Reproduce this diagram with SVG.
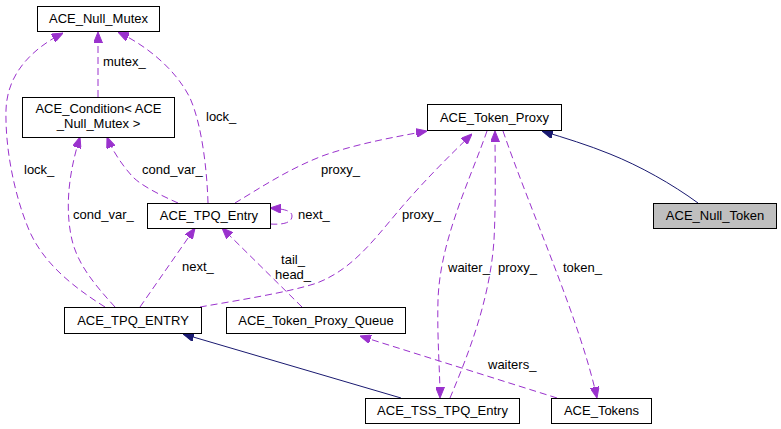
<svg xmlns="http://www.w3.org/2000/svg" width="781" height="429" viewBox="0 0 781 429">
<style>
text{font-family:"Liberation Sans",Arial,sans-serif;font-size:13px;fill:#000}
.n rect{fill:#fff;stroke:#000;stroke-width:1}
.n text{text-anchor:middle}
.d{fill:none;stroke:#9a32cd;stroke-width:1;stroke-dasharray:7,4;marker-end:url(#ap)}
.s{fill:none;stroke:#191970;stroke-width:1;marker-end:url(#an)}
</style>
<defs>
<marker id="ap" viewBox="0 0 11 9" refX="11" refY="4.5" markerWidth="11" markerHeight="9" markerUnits="userSpaceOnUse" orient="auto"><path d="M0,0L11,4.5L0,9z" fill="#9a32cd" stroke="#9a32cd"/></marker>
<marker id="an" viewBox="0 0 11 9" refX="11" refY="4.5" markerWidth="11" markerHeight="9" markerUnits="userSpaceOnUse" orient="auto"><path d="M0,0L11,4.5L0,9z" fill="#191970" stroke="#191970"/></marker>
</defs>
<rect width="781" height="429" fill="#fff"/>
<g id="edges">
<path class="s" d="M698,203 C672,184 640,166 610,154 C588,145 565,138 542,131"/>
<path class="s" d="M401,398 L183,334"/>
<path class="d" d="M557,398 L360,336"/>
<path class="d" d="M503,131 C530,210 580,320 597,398"/>
<path class="d" d="M487,131 C470,180 440,240 438,300 C437,340 440,370 440,398"/>
<path class="d" d="M450,398 C468,355 490,300 494,240 C496,200 495,160 495,131"/>
<path class="d" d="M200,307 C240,300 290,292 317,283 C350,270 370,245 395,215 C420,185 450,155 472,134"/>
<path class="d" d="M235,203 C260,188 290,168 325,155 C360,143 395,137 427,131"/>
<path class="d" d="M270,224 C285,225 292,222 292,216 C292,211 285,209 270,208"/>
<path class="d" d="M140,307 L195,228"/>
<path class="d" d="M302,307 L222,228"/>
<path class="d" d="M178,203 C160,195 140,185 132,176 C122,165 112,150 107,137"/>
<path class="d" d="M208,203 C207,170 202,125 190,98 C175,68 145,45 118,32"/>
<path class="d" d="M105,307 C70,285 40,260 27,225 C15,195 5,150 6,110 C7,75 30,50 63,33"/>
<path class="d" d="M115,307 C95,285 78,265 72,240 C65,210 68,175 80,137"/>
<path class="d" d="M98,97 L98,32"/>
<text x="103" y="66">mutex_</text>
<text x="206" y="121">lock_</text>
<text x="24" y="174">lock_</text>
<text x="142" y="174">cond_var_</text>
<text x="73" y="219">cond_var_</text>
<text x="321" y="174">proxy_</text>
<text x="298" y="219">next_</text>
<text x="402" y="219">proxy_</text>
<text x="182" y="271">next_</text>
<text x="293" y="264" text-anchor="middle">tail_</text>
<text x="293" y="279" text-anchor="middle">head_</text>
<text x="448" y="272">waiter_</text>
<text x="498" y="272">proxy_</text>
<text x="563" y="272">token_</text>
<text x="488" y="369">waiters_</text>
</g>
<g id="ACE_Null_Mutex" class="n"><rect x="37.5" y="6.5" width="122" height="25"/><text x="98.5" y="23">ACE_Null_Mutex</text></g>
<g id="ACE_Condition" class="n"><rect x="22.5" y="97.5" width="152" height="40"/><text x="98.5" y="113">ACE_Condition&lt; ACE</text><text x="98.5" y="128">_Null_Mutex &gt;</text></g>
<g id="ACE_TPQ_Entry" class="n"><rect x="147.5" y="203.5" width="123" height="25"/><text x="209" y="220">ACE_TPQ_Entry</text></g>
<g id="ACE_TPQ_ENTRY" class="n"><rect x="64.5" y="307.5" width="137" height="26"/><text x="133" y="325">ACE_TPQ_ENTRY</text></g>
<g id="ACE_Token_Proxy_Queue" class="n"><rect x="226.5" y="307.5" width="179" height="26"/><text x="316" y="325">ACE_Token_Proxy_Queue</text></g>
<g id="ACE_TSS_TPQ_Entry" class="n"><rect x="365.5" y="398.5" width="154" height="25"/><text x="442.5" y="415">ACE_TSS_TPQ_Entry</text></g>
<g id="ACE_Tokens" class="n"><rect x="551.5" y="398.5" width="100" height="25"/><text x="601.5" y="415">ACE_Tokens</text></g>
<g id="ACE_Token_Proxy" class="n"><rect x="427.5" y="104.5" width="134" height="26"/><text x="494.5" y="122">ACE_Token_Proxy</text></g>
<g id="ACE_Null_Token" class="n"><rect x="653.5" y="203.5" width="123" height="25" style="fill:#bfbfbf"/><text x="715" y="220">ACE_Null_Token</text></g>
</svg>
